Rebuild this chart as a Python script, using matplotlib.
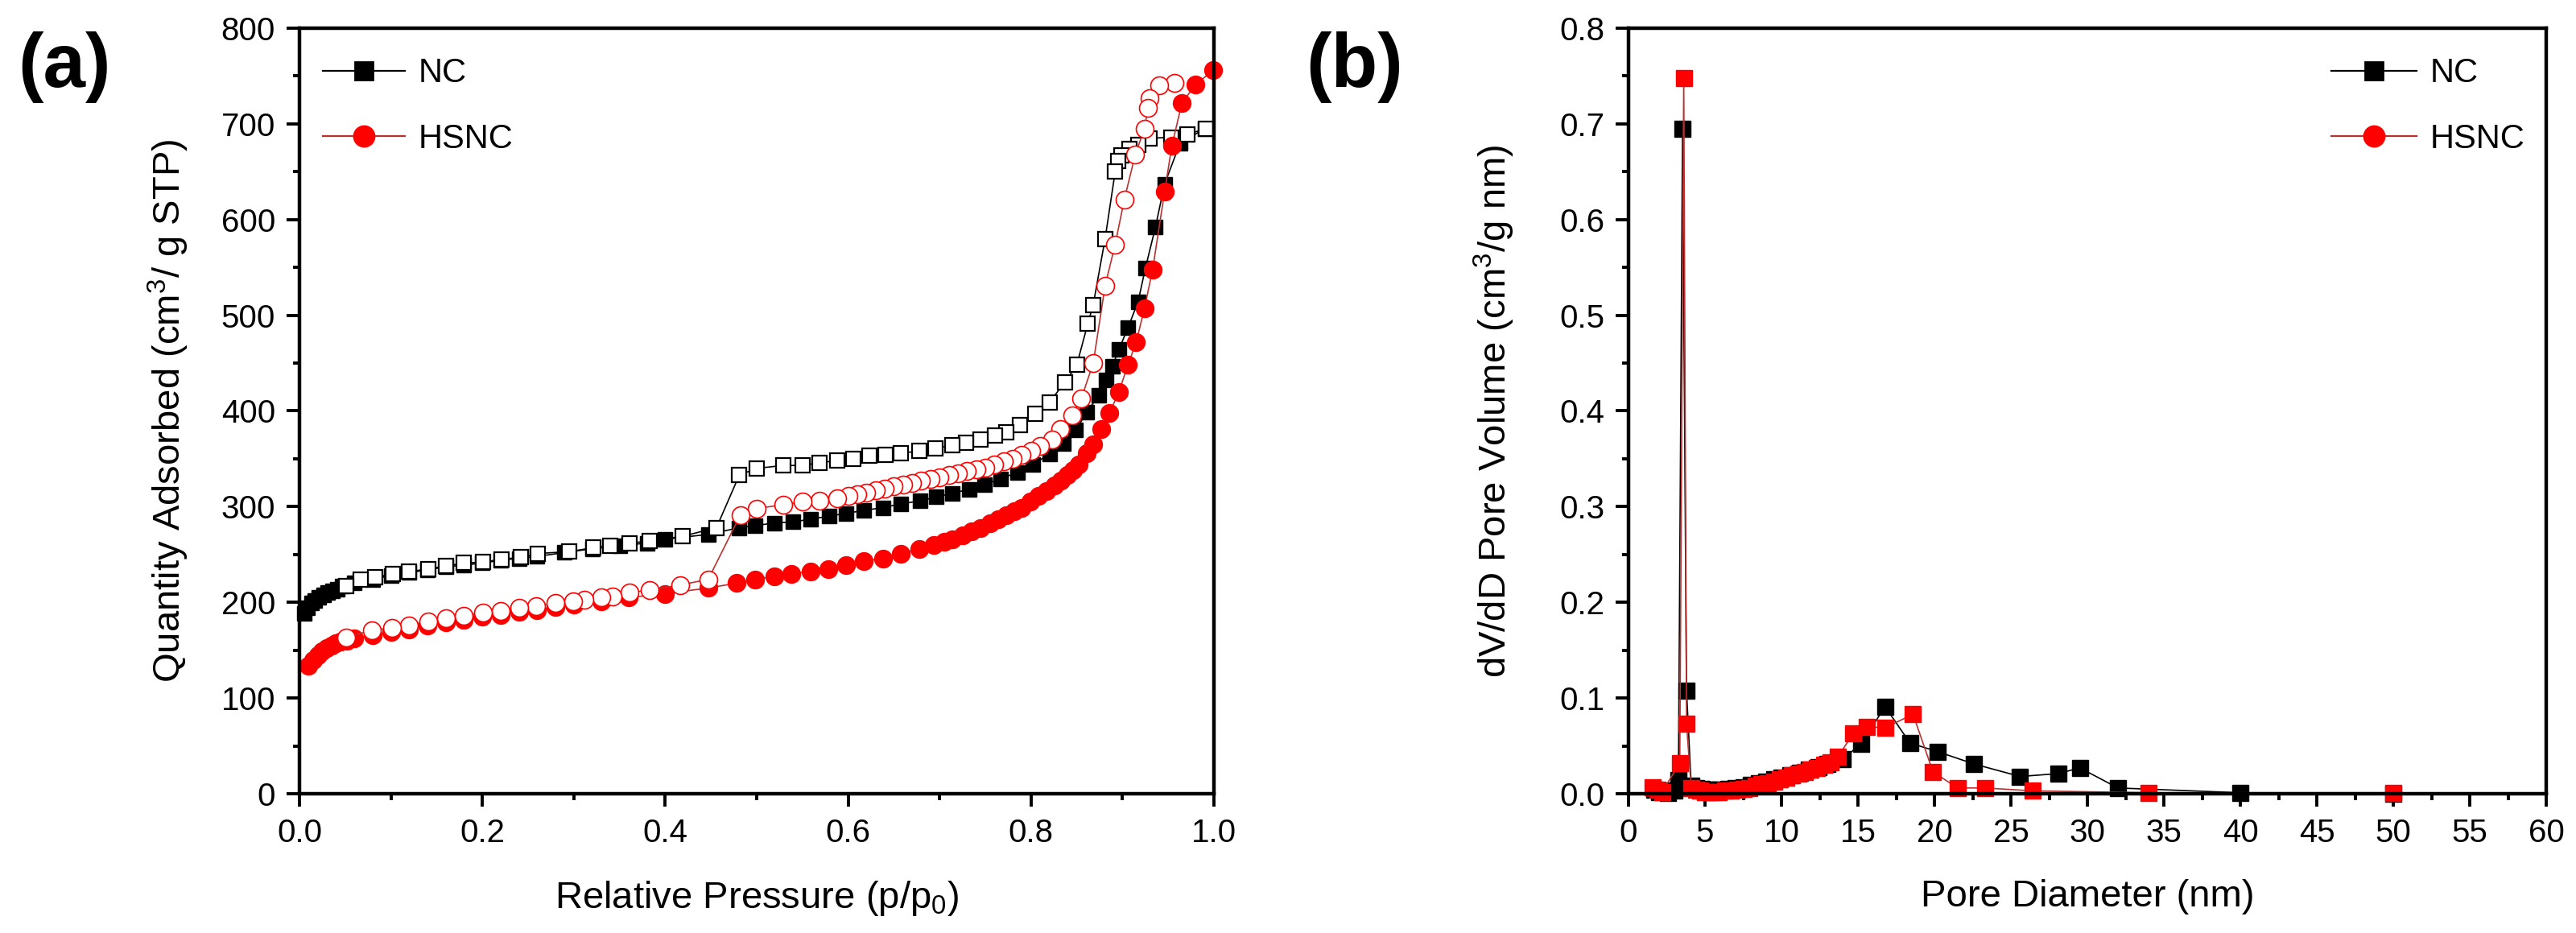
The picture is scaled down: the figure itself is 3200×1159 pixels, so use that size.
import matplotlib
matplotlib.use("Agg")
import matplotlib.pyplot as plt
from matplotlib.ticker import MultipleLocator
from matplotlib.lines import Line2D

plt.rcParams['font.family'] = ['Liberation Sans', 'DejaVu Sans']
plt.rcParams['mathtext.fontset'] = 'custom'
plt.rcParams['mathtext.rm'] = 'Liberation Sans'
plt.rcParams['mathtext.it'] = 'Liberation Sans:italic'
plt.rcParams['mathtext.default'] = 'regular'

# ---- (a) N2 isotherms, relative pressure vs quantity adsorbed ----
nc_ads_p = [0.005, 0.009, 0.013, 0.017, 0.021, 0.026, 0.031, 0.036, 0.041, 0.047,
            0.06, 0.08, 0.10, 0.12, 0.14, 0.16, 0.18, 0.20, 0.22, 0.24, 0.26,
            0.29, 0.32, 0.35, 0.38, 0.40, 0.447, 0.481, 0.498, 0.519, 0.540,
            0.559, 0.579, 0.598, 0.617, 0.638, 0.658, 0.679, 0.696, 0.714,
            0.732, 0.749, 0.767, 0.785, 0.802, 0.820, 0.835, 0.849, 0.861,
            0.874, 0.882, 0.889, 0.896, 0.906, 0.917, 0.925, 0.936, 0.946,
            0.963, 0.990]
nc_ads_v = [188, 194, 199, 202, 205, 208, 210, 212, 214, 217,
            220, 224, 228, 231, 234, 237, 239, 241, 244, 246, 248,
            252, 256, 259, 262, 266, 271, 278, 280, 283, 284,
            287, 290, 293, 296, 299, 303, 306, 310, 314,
            318, 323, 329, 336, 344, 355, 366, 380, 399,
            416, 432, 447, 464, 487, 514, 549, 592, 637,
            680, 695]

nc_des_p = [0.991, 0.971, 0.953, 0.930, 0.917, 0.908, 0.899, 0.895, 0.892, 0.881,
            0.868, 0.862, 0.850, 0.837, 0.820, 0.805, 0.788, 0.773, 0.761,
            0.745, 0.729, 0.714, 0.695, 0.678, 0.658, 0.641, 0.623, 0.606,
            0.588, 0.569, 0.550, 0.529, 0.500, 0.481, 0.456, 0.419, 0.383,
            0.361, 0.340, 0.321, 0.295, 0.261, 0.242, 0.221, 0.201, 0.180,
            0.160, 0.141, 0.120, 0.102, 0.083, 0.067, 0.051]
nc_des_v = [695, 689, 686, 685, 678, 674, 667, 661, 650, 580,
            511, 491, 448, 430, 409, 397, 385, 378, 374,
            370, 367, 364, 361, 358, 356, 354, 353, 350,
            348, 346, 343, 343, 340, 333, 278, 269, 264,
            262, 259, 257, 253, 251, 247, 245, 242, 241,
            238, 235, 232, 230, 226, 224, 217]

hsnc_ads_p = [0.010, 0.015, 0.020, 0.025, 0.030, 0.035, 0.040, 0.045, 0.052, 0.060,
              0.08, 0.10, 0.12, 0.14, 0.16, 0.18, 0.20, 0.22, 0.24, 0.26, 0.28,
              0.30, 0.33, 0.36, 0.40, 0.447, 0.478, 0.498, 0.519, 0.538, 0.559,
              0.578, 0.598, 0.617, 0.638, 0.658, 0.678, 0.694, 0.705, 0.714,
              0.725, 0.735, 0.745, 0.755, 0.764, 0.773, 0.782, 0.790, 0.799,
              0.808, 0.817, 0.826, 0.833, 0.840, 0.846, 0.852, 0.861, 0.868,
              0.877, 0.886, 0.896, 0.906, 0.915, 0.924, 0.933, 0.946, 0.954,
              0.965, 0.980, 0.999]
hsnc_ads_v = [134, 140, 145, 149, 152, 155, 157, 159, 160, 162,
              166, 169, 172, 176, 179, 182, 185, 187, 190, 192, 195,
              198, 201, 205, 209, 215, 220, 224, 227, 230, 232,
              235, 239, 243, 246, 251, 256, 260, 263, 266,
              270, 274, 278, 283, 287, 291, 295, 299, 305,
              311, 316, 322, 327, 333, 338, 344, 356, 365,
              381, 398, 420, 448, 472, 507, 548, 629, 677,
              722, 741, 756]

hsnc_des_p = [0.957, 0.940, 0.930, 0.928, 0.924, 0.914, 0.902, 0.892, 0.881, 0.868,
              0.855, 0.845, 0.832, 0.823, 0.810, 0.800, 0.790, 0.780, 0.770,
              0.760, 0.750, 0.740, 0.730, 0.720, 0.710, 0.700, 0.690, 0.680,
              0.670, 0.660, 0.650, 0.640, 0.630, 0.620, 0.610, 0.600, 0.588,
              0.569, 0.550, 0.529, 0.500, 0.482, 0.447, 0.416, 0.383, 0.361,
              0.342, 0.330, 0.312, 0.299, 0.280, 0.259, 0.240, 0.220, 0.201,
              0.180, 0.160, 0.141, 0.120, 0.101, 0.079, 0.051]
hsnc_des_v = [743, 740, 727, 717, 695, 668, 621, 574, 531, 450,
              413, 395, 381, 370, 363, 358, 354, 350, 347,
              344, 341, 339, 337, 335, 333, 331, 329, 327,
              325, 323, 321, 319, 317, 315, 313, 311, 309,
              306, 305, 302, 298, 291, 224, 218, 213, 210,
              206, 205, 203, 201, 199, 196, 194, 191, 189,
              186, 183, 180, 176, 173, 171, 163]

# ---- (b) pore size distribution ----
nc_d = [1.7, 2.0, 2.6, 3.0, 3.26, 3.53, 3.79, 4.1, 4.4, 4.8, 5.2, 5.6, 6.0,
        6.5, 7.0, 7.5, 8.0, 8.5, 9.0, 9.5, 10.0, 10.6, 11.2, 11.8, 12.4, 13.0,
        13.98, 15.2, 16.77, 18.4, 20.2, 22.6, 25.6, 28.1, 29.5, 32.0, 40.0, 50.0]
nc_dv = [0.004, 0.002, 0.001, 0.003, 0.014, 0.695, 0.108, 0.008, 0.006, 0.005,
         0.004, 0.004, 0.004, 0.005, 0.006, 0.007, 0.009, 0.011, 0.013, 0.015,
         0.017, 0.019, 0.022, 0.025, 0.028, 0.031, 0.036, 0.052, 0.091, 0.053,
         0.044, 0.031, 0.018, 0.021, 0.027, 0.006, 0.001, 0.0]

hsnc_d = [1.6, 1.9, 2.2, 3.35, 3.61, 3.79, 4.1, 4.4, 4.7, 5.0, 5.3, 5.6, 5.9,
          6.3, 6.7, 7.1, 7.5, 7.9, 8.3, 8.7, 9.1, 9.5, 9.9, 10.3, 10.7, 11.1,
          11.5, 11.9, 12.3, 12.8, 13.2, 13.7, 14.7, 15.6, 16.77, 18.6, 19.9,
          21.5, 23.3, 26.4, 34.0, 50.0]
hsnc_dv = [0.007, 0.004, 0.002, 0.032, 0.748, 0.073, 0.006, 0.004, 0.003, 0.002,
           0.002, 0.002, 0.002, 0.003, 0.003, 0.004, 0.005, 0.006, 0.008, 0.010,
           0.011, 0.013, 0.015, 0.017, 0.019, 0.021, 0.023, 0.025, 0.027, 0.030,
           0.033, 0.039, 0.063, 0.070, 0.069, 0.083, 0.023, 0.006, 0.006, 0.003,
           0.001, 0.001]

RED = '#ff0000'
RED_LINE = '#b83232'

fig = plt.figure(figsize=(16, 5.795), dpi=200)
ax1 = fig.add_axes([0.11625, 0.1493, 0.355, 0.8205])
ax2 = fig.add_axes([0.6322, 0.1493, 0.35625, 0.8205])

# panel (a)
ax1.plot(nc_ads_p, nc_ads_v, '-', color='black', lw=0.6, marker='s', ms=6.8,
         mfc='black', mec='black', mew=0.5, clip_on=False)
ax1.plot(nc_des_p, nc_des_v, '-', color='black', lw=0.6, marker='s', ms=6.8,
         mfc='white', mec='black', mew=0.8, clip_on=False)
ax1.plot(hsnc_ads_p, hsnc_ads_v, '-', color=RED_LINE, lw=0.6, marker='o', ms=7.9,
         mfc=RED, mec=RED, mew=0.5, clip_on=False)
ax1.plot(hsnc_des_p, hsnc_des_v, '-', color=RED_LINE, lw=0.6, marker='o', ms=7.9,
         mfc='white', mec=RED, mew=0.6, clip_on=False)

ax1.set_xlim(0, 1.0)
ax1.set_ylim(0, 800)
ax1.xaxis.set_major_locator(MultipleLocator(0.2))
ax1.xaxis.set_minor_locator(MultipleLocator(0.1))
ax1.yaxis.set_major_locator(MultipleLocator(100))
ax1.yaxis.set_minor_locator(MultipleLocator(50))
ax1.xaxis.set_major_formatter(plt.FuncFormatter(lambda v, p: f'{v:.1f}'))
ax1.set_xlabel('Relative Pressure (p/p$_0$)', fontsize=17)
ax1.set_ylabel('Quantity Adsorbed (cm$^3$/ g STP)', fontsize=17)
ax1.xaxis.set_label_coords(0.5, -0.111)
ax1.yaxis.set_label_coords(-0.119, 0.5)

# panel (b)
ax2.plot(nc_d, nc_dv, '-', color='black', lw=0.6, marker='s', ms=7,
         mfc='black', mec='black', mew=0.5, clip_on=False)
ax2.plot(hsnc_d, hsnc_dv, '-', color=RED_LINE, lw=0.6, marker='s', ms=7,
         mfc=RED, mec=RED, mew=0.5, clip_on=False)
ax2.set_xlim(0, 60)
ax2.set_ylim(0, 0.8)
ax2.xaxis.set_major_locator(MultipleLocator(5))
ax2.xaxis.set_minor_locator(MultipleLocator(2.5))
ax2.yaxis.set_major_locator(MultipleLocator(0.1))
ax2.yaxis.set_minor_locator(MultipleLocator(0.05))
ax2.yaxis.set_major_formatter(plt.FuncFormatter(lambda v, p: f'{v:.1f}'))
ax2.set_xlabel('Pore Diameter (nm)', fontsize=17)
ax2.set_ylabel('dV/dD Pore Volume (cm$^3$/g nm)', fontsize=17)
ax2.xaxis.set_label_coords(0.5, -0.111)
ax2.yaxis.set_label_coords(-0.122, 0.5)

for ax in (ax1, ax2):
    for s in ax.spines.values():
        s.set_linewidth(1.6)
    ax.tick_params(which='both', direction='out', top=False, right=False,
                   width=1.4, labelsize=14.5, pad=5)
    ax.tick_params(which='major', length=5.8)
    ax.tick_params(which='minor', length=2.9)

handles = [
    Line2D([], [], color='black', lw=0.8, marker='s', ms=7.9, mfc='black', mec='black'),
    Line2D([], [], color=RED_LINE, lw=0.8, marker='o', ms=9, mfc=RED, mec=RED),
]
ax1.legend(handles, ['NC', 'HSNC'], loc='upper left', bbox_to_anchor=(0.0255, 0.962),
           frameon=False, fontsize=15, handlelength=2.45, handletextpad=0.4,
           labelspacing=1.0, borderpad=0, borderaxespad=0)
ax2.legend(handles, ['NC', 'HSNC'], loc='upper right', bbox_to_anchor=(0.977, 0.962),
           frameon=False, fontsize=15, handlelength=2.55, handletextpad=0.4,
           labelspacing=1.0, borderpad=0, borderaxespad=0)

fig.text(22 / 3200, 1 - 83 / 1159, '(a)', fontsize=34, fontweight='bold', va='center', ha='left')
fig.text(1622 / 3200, 1 - 83 / 1159, '(b)', fontsize=34, fontweight='bold', va='center', ha='left')

fig.savefig('out.png', dpi=200)
